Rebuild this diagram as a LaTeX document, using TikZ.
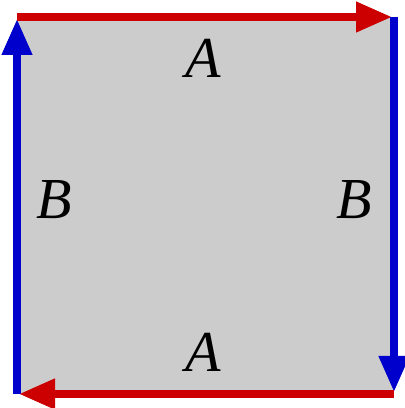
\documentclass[tikz,border=0pt]{standalone}
\usepackage{fontspec}
\setmainfont{Liberation Serif}
\usetikzlibrary{arrows.meta}
\tikzset{
  edgeA/.style={draw={rgb,255:red,204;green,0;blue,0}, line width=7.5pt, -{Triangle[length=36pt,width=29pt]}, shorten >=2pt},
  edgeB/.style={draw={rgb,255:red,0;green,0;blue,204}, line width=7.5pt, -{Triangle[length=36pt,width=29pt]}, shorten >=2pt},
  lbl/.style={inner sep=0pt, font=\fontsize{58}{58}\selectfont\itshape}
}
\begin{document}
\begin{tikzpicture}[x=1pt,y=1pt]
\useasboundingbox (0,0) rectangle (405,408);
\coordinate (tl) at (17,391);
\coordinate (tr) at (394,391);
\coordinate (br) at (394,14);
\coordinate (bl) at (17,14);
\fill[fill={rgb,255:red,204;green,204;blue,204}] (tl) rectangle (br);
\draw[edgeB] (bl) -- (tl);
\draw[edgeA] (tl) -- (tr);
\draw[edgeB] (tr) -- (br);
\draw[edgeA] (br) -- (bl);
\node[lbl] (atop) at (203,350) {A};
\node[lbl] (abot) at (203,56) {A};
\node[lbl] (bleft) at (54,208) {B};
\node[lbl] (bright) at (354,208) {B};
\end{tikzpicture}
\end{document}
